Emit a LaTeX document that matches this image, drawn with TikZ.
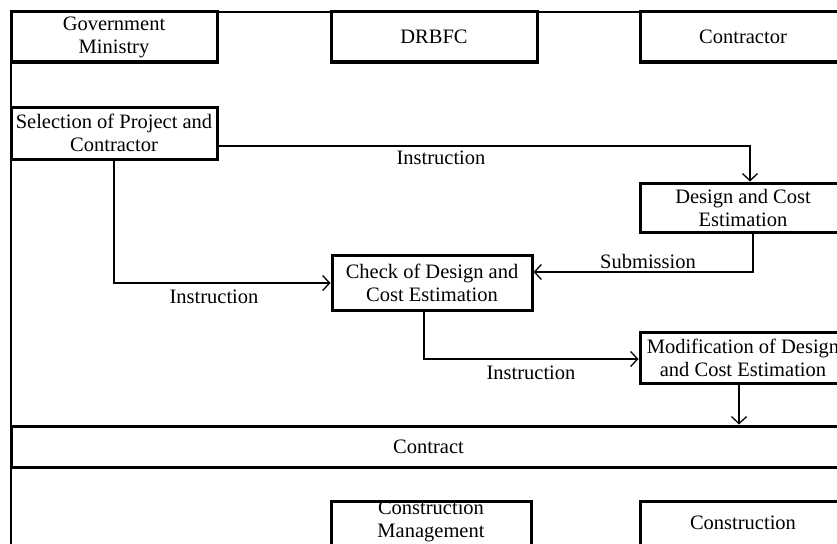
\documentclass[tikz,border=0pt]{standalone}
\usepackage{fontspec}
\setmainfont{Liberation Serif}
\usetikzlibrary{arrows.meta,calc}
\begin{document}
\begin{tikzpicture}[x=1pt,y=-1pt,
  every node/.style={font=\fontsize{20.5}{23}\selectfont, inner sep=0pt, align=center},
  box/.style={draw, line width=3pt, rectangle},
  conn/.style={line width=1.3pt, -{Straight Barb[length=7pt,width=15pt,line width=1.3pt]}},
  lbl/.style={}]
\useasboundingbox (0,0) rectangle (837,543);
\clip (0,0) rectangle (837,543);
% frame
\coordinate (ftl) at (11,12);
\coordinate (ftr) at (850,12);
\coordinate (fbl) at (11,560);
\draw[line width=2.2pt] (ftr) -- (ftl) -- (fbl);
% boxes
\node[box, minimum width=206, minimum height=50] (gov) at (114,37) {Government\\Ministry};
\node[box, minimum width=206, minimum height=50] (drbfc) at (434,37) {DRBFC};
\node[box, minimum width=206, minimum height=50] (contr) at (743,37) {Contractor};
\node[box, minimum width=206, minimum height=52] (sel) at (114,133) {Selection of Project and\\Contractor};
\node[box, minimum width=206, minimum height=49] (design) at (743,207.5) {Design and Cost\\Estimation};
\node[box, minimum width=200, minimum height=55] (check) at (432,282.5) {Check of Design and\\Cost Estimation};
\node[box, minimum width=206, minimum height=51] (modif) at (743,357.5) {Modification of Design\\and Cost Estimation};
\node[box, minimum width=835, minimum height=41] (contract) at (428.5,446.5) {Contract};
\node[box, minimum width=200, minimum height=60] (cm) at (431,531) {};
\node at (431,521) {Construction\\Management};
\node[box, minimum width=206, minimum height=60] (constr) at (743,531) {};
\node at (743,523) {Construction};
% connectors
\draw[conn] ([yshift=-13pt]sel.east) -| ([xshift=7pt]design.north);
\node[lbl] at (441,158) {Instruction};
\draw[conn] (sel.south) |- ([yshift=-0.5pt]check.west);
\node[lbl] at (214,297) {Instruction};
\draw[conn] ([xshift=10pt]design.south) |- ([yshift=10.5pt]check.east);
\node[lbl] at (648,261) {Submission};
\draw[conn] ([xshift=-8pt]check.south) |- ([yshift=-1.5pt]modif.west);
\node[lbl] at (531,373) {Instruction};
\draw[conn] ([xshift=-4pt]modif.south) -- ([xshift=-4pt]modif.south |- contract.north);
\end{tikzpicture}
\end{document}
